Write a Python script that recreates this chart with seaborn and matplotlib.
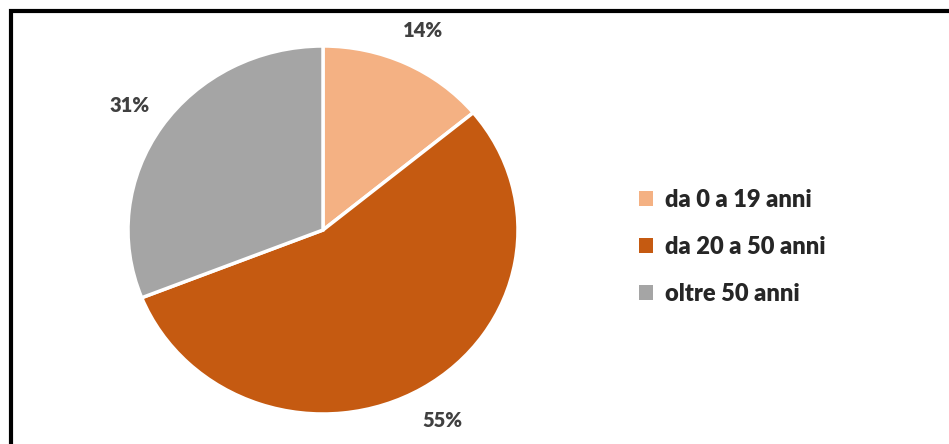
import matplotlib.pyplot as plt
import seaborn as sns
from matplotlib.patches import Patch, Rectangle

categories = ['da 0 a 19 anni', 'da 20 a 50 anni', 'oltre 50 anni']
shares = [14, 55, 31]
colors = ['#F4B183', '#C55A11', '#A5A5A5']

sns.set_style("white")
plt.rcParams['font.family'] = ['Lato', 'DejaVu Sans']

W, H = 949, 444
fig = plt.figure(figsize=(W / 100, H / 100), dpi=100)

# pie area in pixels (slightly wider than tall, as in the reference)
left, right, top, bottom = 128, 518, 46, 414
ax = fig.add_axes([left / W, 1 - bottom / H, (right - left) / W, (bottom - top) / H])

wedges, texts, autotexts = ax.pie(
    shares, colors=colors, startangle=90, counterclock=False,
    autopct='%1.0f%%', pctdistance=1.2,
    wedgeprops=dict(edgecolor='white', linewidth=2.5),
    textprops=dict(fontsize=14.5, fontweight='heavy', color='#404040'))
ax.set_aspect('auto')
ax.set_xlim(-1, 1)
ax.set_ylim(-1, 1)
for t in autotexts:
    t.set_clip_on(False)

handles = [Patch(facecolor=c, edgecolor='none') for c in colors]
fig.legend(handles, categories, loc='center left',
           bbox_to_anchor=(618 / W, 1 - 247 / H), frameon=False,
           prop=dict(size=17, weight='heavy'), handlelength=0.6,
           handleheight=0.6, handletextpad=0.5, labelspacing=1.05)

# outer frame (top and left edges visible)
fig.patches.append(Rectangle((11 / W, -0.1), 2, (H - 11) / H + 0.1,
                             transform=fig.transFigure, fill=False,
                             edgecolor='black', linewidth=3))

fig.savefig('out.png', dpi=100)
